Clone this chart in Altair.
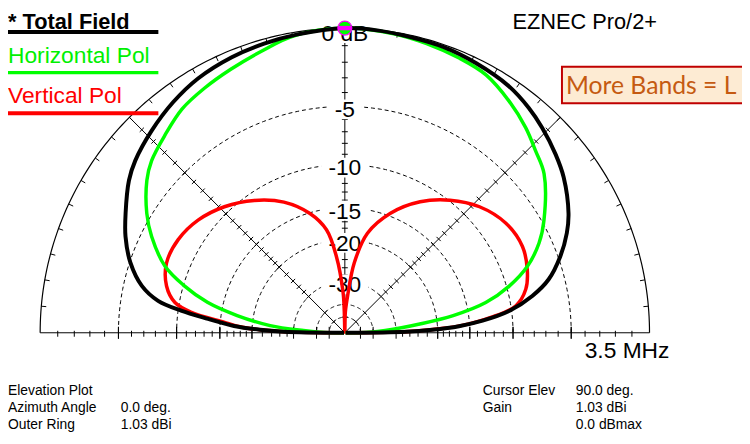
import math
import altair as alt
import pandas as pd

# ---------------- values (elevation deg, dB rel. max) ----------------
total_ang = [0, 1, 2, 3.3, 5, 7.6, 11.1, 14.7, 19.5, 24.2, 28.1, 35.4, 40.3, 46.1, 50.7, 56.3, 64, 71, 77.5, 83.9, 90,
             99.2, 105.6, 112.3, 120, 126.7, 133.7, 140.6, 144.8, 151.4, 156.3, 161.9, 167, 170.3, 172.3, 174.2,
             176.5, 178, 179, 180]
total_db = [-100, -27, -21, -16.5, -13.3, -10.2, -7.86, -6.2, -4.84, -3.78, -3.09, -2.13, -1.65, -1.15, -0.8,
            -0.48, -0.27, -0.13, -0.1, -0.03, 0,
            -0.15, -0.25, -0.38, -0.62, -0.98, -1.45, -1.96, -2.4, -3.35, -4.05, -5.06, -6.4, -8.0, -10.3, -13.4,
            -17, -21.5, -27, -100]

hpol_ang = [0, 1.5, 3.3, 6.7, 9, 12.1, 15.9, 20, 24.8, 29.5, 38.6, 43.7, 48.6, 54.6, 61.3, 67.3, 74.2, 80.7, 90,
            100, 106.1, 113.4, 119.8, 126, 132.2, 138.3, 142.4, 148.9, 153.5, 159.7, 163.7, 167.5, 170.9, 174.5,
            176.9, 178.5, 180]
hpol_db = [-100, -42, -34, -23.5, -17.2, -12.6, -9.7, -7.57, -5.95, -4.82, -3.0, -2.43, -1.82, -1.19, -0.6, -0.4,
           -0.23, -0.09, 0,
           -0.2, -0.6, -1.0, -1.3, -1.62, -2.2, -2.75, -3.34, -4.64, -5.8, -7.8, -10.1, -13.0, -17.3, -23.6,
           -33.6, -42, -100]

vpol_ang = [0, 1, 2, 3.5, 6, 9, 13.5, 19.1, 25.9, 34.2, 43.1, 51.6, 60.1, 69.1, 77.2, 82.3, 85.7, 88.5, 90,
            91.5, 92.5, 96.3, 100.1, 106.3, 115, 124.4, 133.7, 142.5, 150.8, 158.6, 165.3, 169.9, 172.4, 175,
            176.5, 178, 179, 180]
vpol_db = [-100, -27.5, -21.5, -16.2, -12.3, -9.5, -8.3, -7.68, -7.3, -7.53, -8.45, -9.9, -11.8, -14.6, -18.4,
           -24.6, -35.5, -45, -100,
           -45, -34, -23.2, -18.0, -15.1, -12.6, -10.8, -9.4, -8.4, -7.87, -7.82, -8.46, -9.57, -11.4, -15.5,
           -17.5, -21.5, -27.5, -100]

ring_db = [-5, -10, -15, -20, -30, -40, -50]
label_db = [-5, -10, -15, -20, -30]
label_txt = ["-5", "-10", "-15", "-20", "-30"]
top_label = "0 dB"
minor_db = list(range(-1, -21, -1)) + [-22, -24, -26, -28]
major_db = [-5, -10, -15, -20, -30, -40, -50]
ring_tick_ang = list(range(5, 180, 5))
radial_ang = [0, 45, 90, 135, 180]
cursor_ang, cursor_db = [90], [0]

legend_txt = ["* Total Field", "Horizontal Pol", "Vertical Pol"]
title_txt = "EZNEC Pro/2+"
freq_txt = "3.5 MHz"
info_left_lbl = ["Elevation Plot", "Azimuth Angle", "Outer Ring"]
info_left_val = ["0.0 deg.", "1.03 dBi"]
info_right_lbl = ["Cursor Elev", "Gain"]
info_right_val = ["90.0 deg.", "1.03 dBi", "0.0 dBmax"]
note_txt = "More Bands = L"

# ---------------- layout ----------------
W, H = 742, 424
R = 308.0
CX, CY = 340.5, 326.0
K = 0.0258
PX = 1.0 / R
FONT = "Liberation Sans"

xs = alt.Scale(domain=[-CX / R, (W - CX) / R], nice=False, zero=False)
ys = alt.Scale(domain=[(CY - H) / R, CY / R], nice=False, zero=False)


def ex(f="x"):
    return alt.X(f"{f}:Q", scale=xs, axis=None)


def ey(f="y"):
    return alt.Y(f"{f}:Q", scale=ys, axis=None)


def u(db):
    return 10 ** (K * db)


def polar(ch):
    return ch.transform_calculate(u=f"pow(10, {K} * datum.db)").transform_calculate(
        x="datum.u * cos(datum.ang * PI / 180)",
        y="datum.u * sin(datum.ang * PI / 180)")


layers = []

# dashed rings
ring_rows = [dict(ang=a, db=d) for d in ring_db for a in range(0, 181)]
layers.append(polar(alt.Chart(pd.DataFrame(ring_rows))).mark_line(
    color="black", strokeWidth=1, strokeDash=[4, 3]).encode(
    x=ex(), y=ey(), detail="db:N", order=alt.Order("ang:Q")))

# outer ring
outer_rows = [dict(ang=a, db=0) for a in range(0, 181)]
layers.append(polar(alt.Chart(pd.DataFrame(outer_rows))).mark_line(
    color="black", strokeWidth=1.2).encode(x=ex(), y=ey(), order=alt.Order("ang:Q")))

# radial lines + ticks
rule_rows = []
for a in radial_ang:
    t = math.radians(a)
    rule_rows.append(dict(x=0, y=0, x2=math.cos(t), y2=math.sin(t)))
for d in minor_db + major_db:
    r = u(d)
    big = d in major_db
    for s in (1, -1):
        rule_rows.append(dict(x=s * r, y=(6 if big else 2) * PX, x2=s * r, y2=-(6 if big else 4) * PX))
    for a in (45, 90, 135):
        t = math.radians(a)
        px_, py_ = r * math.cos(t), r * math.sin(t)
        h = 3 * PX
        rule_rows.append(dict(x=px_ + h * math.sin(t), y=py_ - h * math.cos(t),
                              x2=px_ - h * math.sin(t), y2=py_ + h * math.cos(t)))
for a in ring_tick_ang:
    t = math.radians(a)
    rule_rows.append(dict(x=math.cos(t), y=math.sin(t),
                          x2=(1 - 5 * PX) * math.cos(t), y2=(1 - 5 * PX) * math.sin(t)))
layers.append(alt.Chart(pd.DataFrame(rule_rows)).mark_rule(color="black", strokeWidth=1).encode(
    x=ex(), y=ey(), x2=alt.X2("x2:Q"), y2=alt.Y2("y2:Q")))

# white boxes behind scale labels
box_rows = [dict(x=-30 * PX, x2=30 * PX, y=u(0) + 7 * PX, y2=u(0) - 15 * PX)]
for d, s in zip(label_db, label_txt):
    hw = 17 if len(s) == 2 else 24
    box_rows.append(dict(x=-hw * PX, x2=hw * PX, y=u(d) + 7 * PX, y2=u(d) - 13 * PX))
layers.append(alt.Chart(pd.DataFrame(box_rows)).mark_rect(color="white").encode(
    x=ex(), y=ey(), x2=alt.X2("x2:Q"), y2=alt.Y2("y2:Q")))

# scale labels
lab_df = pd.DataFrame({"ang": [90] * len(label_db), "db": label_db, "t": label_txt})
layers.append(polar(alt.Chart(lab_df)).mark_text(
    font=FONT, fontSize=23, color="black", align="center", baseline="alphabetic", dy=11).encode(
    x=ex(), y=ey(), text="t:N"))
top_df = pd.DataFrame({"ang": [90], "db": [0], "t": [top_label]})
layers.append(polar(alt.Chart(top_df)).mark_text(
    font=FONT, fontSize=23, color="black", align="center", baseline="alphabetic", dy=13).encode(
    x=ex(), y=ey(), text="t:N"))


# pattern curves
def curve(ang, db, color, width):
    df = pd.DataFrame({"ang": ang, "db": db})
    return polar(alt.Chart(df)).mark_line(
        color=color, strokeWidth=width, strokeJoin="round", interpolate="catmull-rom").encode(
        x=ex(), y=ey(), order=alt.Order("ang:Q"))


layers.append(curve(vpol_ang, vpol_db, "#FF0000", 3.5))
layers.append(curve(hpol_ang, hpol_db, "#00FF00", 3.5))
layers.append(curve(total_ang, total_db, "#000000", 4))

# cursor marker
cur_df = pd.DataFrame({"ang": cursor_ang, "db": cursor_db})
layers.append(polar(alt.Chart(cur_df)).mark_point(
    shape="circle", filled=True, fill="#00FF00", stroke="#FF00FF", strokeWidth=1.2, size=200, opacity=1).encode(
    x=ex(), y=ey()))
layers.append(polar(alt.Chart(cur_df)).transform_calculate(
    xa=f"datum.x - {7 * PX}", xb=f"datum.x + {7 * PX}").mark_rule(
    color="#FF00FF", strokeWidth=4.5).encode(x=ex("xa"), x2=alt.X2("xb:Q"), y=ey()))

# legend, title, info text
one = pd.DataFrame({"a": [0]})


def txt(s, x, y, size, color="black", weight="normal", font=FONT, line_h=None):
    kw = dict(font=font, fontSize=size, color=color, fontWeight=weight, align="left", baseline="alphabetic")
    if line_h:
        kw.update(lineBreak="\n", lineHeight=line_h)
    return alt.Chart(pd.DataFrame({"t": [s]})).mark_text(**kw).encode(
        text="t:N", x=alt.value(x), y=alt.value(y))


def hline(x1, x2, y, color, w):
    return alt.Chart(one).mark_rule(color=color, strokeWidth=w).encode(
        x=alt.value(x1), x2=alt.value(x2), y=alt.value(y))


layers.append(txt(legend_txt[0], 0, 19, 22, weight="bold"))
layers.append(hline(0, 152, 22, "black", 4))
layers.append(txt(legend_txt[1], 0, 53, 23, color="#00F000"))
layers.append(hline(0, 152, 63, "#00FF00", 3.5))
layers.append(txt(legend_txt[2], 0, 94, 23, color="#FF0000"))
layers.append(hline(0, 152, 104, "#FF0000", 4))
layers.append(txt(title_txt, 510, 19, 22))
layers.append(txt(freq_txt, 583, 352, 23))

layers.append(txt("\n".join(info_left_lbl), 0, 389, 14, line_h=17))
layers.append(txt("\n".join(info_left_val), 114, 406, 14, line_h=17))
layers.append(txt("\n".join(info_right_lbl), 480, 389, 14, line_h=17))
layers.append(txt("\n".join(info_right_val), 574, 389, 14, line_h=17))

# overlay note box (cut at the right edge)
layers.append(alt.Chart(one).mark_rect(fill="#FDEBD3", stroke="#C00000", strokeWidth=2).encode(
    x=alt.value(560), x2=alt.value(820), y=alt.value(57), y2=alt.value(94)))
layers.append(txt(note_txt, 564, 85, 25, color="#C55A11", font="Lato"))

chart = alt.layer(*layers).properties(
    width=W, height=H, autosize=alt.AutoSizeParams(type="none"), padding=0, background="white"
).configure_view(stroke=None)

chart.save("out.html", embed_options={"renderer": "svg", "actions": False})
